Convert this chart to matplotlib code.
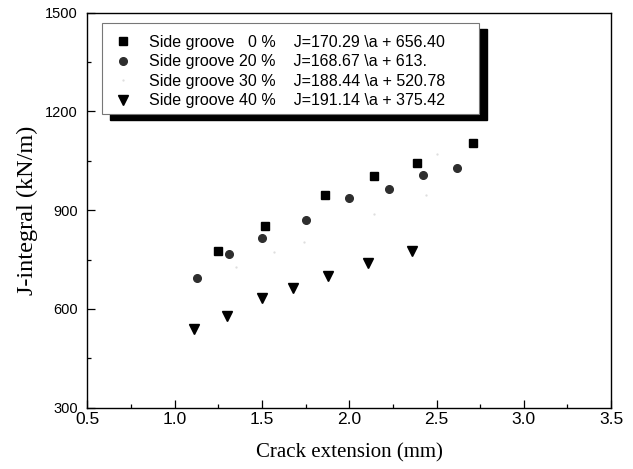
import numpy as np
import matplotlib.pyplot as plt
from matplotlib.patches import Rectangle

# data
x_0 = [1.25, 1.52, 1.86, 2.14, 2.39, 2.71]
j_0 = [777, 853, 946, 1005, 1044, 1104]

x_20 = [1.13, 1.31, 1.50, 1.75, 2.00, 2.23, 2.42, 2.62]
j_20 = [695, 767, 816, 870, 936, 963, 1006, 1027]

# 30 % series is almost washed out in the scan
x_30 = [1.35, 1.57, 1.74, 2.14, 2.44, 2.50]
j_30 = [727, 772, 804, 888, 946, 1070]

x_40 = [1.11, 1.30, 1.50, 1.68, 1.88, 2.11, 2.36]
j_40 = [538, 579, 634, 663, 701, 740, 777]

labels = [
    "Side groove   0 %    J=170.29 \\a + 656.40",
    "Side groove 20 %    J=168.67 \\a + 613.",
    "Side groove 30 %    J=188.44 \\a + 520.78",
    "Side groove 40 %    J=191.14 \\a + 375.42",
]

x_ticks = [0.5, 1.0, 1.5, 2.0, 2.5, 3.0, 3.5]
y_ticks = [300, 600, 900, 1200, 1500]

plt.rcParams["font.family"] = ["Liberation Sans", "DejaVu Sans"]

fig = plt.figure(figsize=(6.33, 4.69), dpi=100)
ax = fig.add_axes([0.1382, 0.1307, 0.8271, 0.8422])

h0, = ax.plot(x_0, j_0, ls="none", marker="s", ms=6, color="black")
h20, = ax.plot(x_20, j_20, ls="none", marker="o", ms=5.5, color="#2e2e2e")
h30, = ax.plot(x_30, j_30, ls="none", marker=".", ms=1.2, color="#dcdcdc")
h40, = ax.plot(x_40, j_40, ls="none", marker="v", ms=7.5, color="black")

ax.set_xlim(0.5, 3.5)
ax.set_ylim(300, 1500)
ax.set_xticks(x_ticks)
ax.set_xticklabels([f"{v:.1f}" for v in x_ticks])
ax.set_yticks(y_ticks)
ax.set_xticks(np.arange(0.75, 3.5, 0.5), minor=True)
ax.set_yticks(np.arange(450, 1500, 300), minor=True)

ax.tick_params(which="both", direction="in", top=False, right=False)
ax.tick_params(which="major", length=5.5, width=0.9)
ax.tick_params(which="minor", length=3, width=0.9)
ax.tick_params(axis="x", labelsize=12.5, pad=3)
ax.tick_params(axis="y", labelsize=10.5, pad=7)
for s in ax.spines.values():
    s.set_linewidth(1.0)

ax.set_xlabel("Crack extension (mm)", family="Liberation Serif", fontsize=15, labelpad=12)
ax.set_ylabel("J-integral (kN/m)", family="Liberation Serif", fontsize=17.5, labelpad=5)

# legend box with heavy black drop shadow
bx, by, bw, bh = 0.027, 0.744, 0.721, 0.231
ax.add_patch(Rectangle((bx + 0.016, by - 0.015), bw, bh, transform=ax.transAxes,
                       facecolor="black", edgecolor="black", zorder=4))
ax.add_patch(Rectangle((bx, by), bw, bh, transform=ax.transAxes,
                       facecolor="white", edgecolor="#777777", lw=0.8, zorder=5))

leg = ax.legend([h0, h20, h30, h40], labels, loc="upper left",
                bbox_to_anchor=(0.035, 0.968), frameon=False, fontsize=11.5,
                handlelength=1.0, handletextpad=1.1, labelspacing=0.28,
                borderaxespad=0.2)
leg.set_zorder(6)

fig.savefig("out.png", dpi=100)
